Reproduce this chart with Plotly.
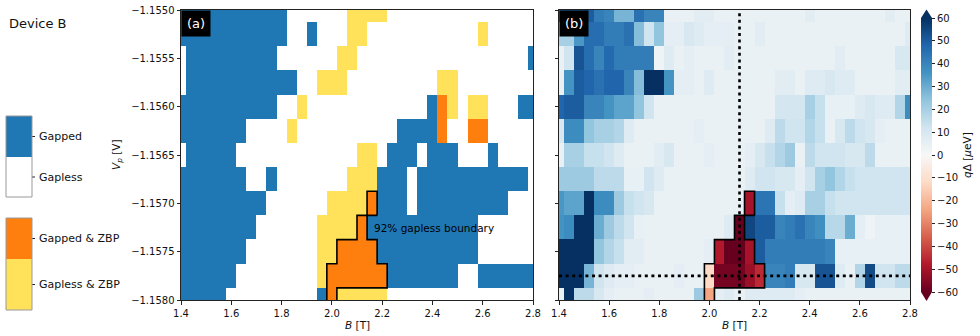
import plotly.graph_objects as go

# Grade de medição (centros das células)
B_vals = [1.40, 1.44, 1.48, 1.52, 1.56, 1.60, 1.64, 1.68, 1.72, 1.76, 1.80, 1.84,
          1.88, 1.92, 1.96, 2.00, 2.04, 2.08, 2.12, 2.16, 2.20, 2.24, 2.28, 2.32,
          2.36, 2.40, 2.44, 2.48, 2.52, 2.56, 2.60, 2.64, 2.68, 2.72, 2.76, 2.80]
Vp_vals = [-1.15500, -1.15525, -1.15550, -1.15575, -1.15600, -1.15625, -1.15650,
           -1.15675, -1.15700, -1.15725, -1.15750, -1.15775, -1.15800]

# Mapa de fases (a): G = gapped, W = gapless, O = gapped & ZBP, Y = gapless & ZBP
phase_rows = [
    "GGGGGGGGGGGWWWWWWYYYYWWWWWWWWWWWWWWW",
    "GGGGGGGGGGGWWGWWWYYWWWWWWWWWWWYWWWWW",
    "WGGGGGGGGGWWWWWWYYWWWWWWWWWWWWWWWWWG",
    "WGGGGGGGGGGGWWYYYWWWWWWWWWYYWWWWWWWW",
    "GGGGGGGGGGWWYWWWWWWWWWWWWGOYWYYWWWGG",
    "GGGGGGGWWWWYWWWWWWWWWWGGGGOWWOOWWWWW",
    "WGGGGGWWWWWWWWWWWWYYWGGGWGGGWWWGWWWW",
    "GGGGGGGWWGWWWWWWWYYYGGGWGGGGGGGGGGGW",
    "GGGGGGGGGWWWWWWYYYYOGGGWGGGGGGGGGWWW",
    "GGGGGGGGWWWWWWYYYYOGGGGGGGGGGGWWWWWW",
    "GGGGGGGWWWWWWWYYOOOOGGGGGGGGGGWWWWWW",
    "GGGGGGWWWWWWWWYOOOOOOGGGGGGGWWGGGGGG",
    "GGGGGWWWWWWWWWGOYYYYYWWWWWWWWWWWWWWW",
]
phase_codes = {"G": 0, "W": 1, "O": 2, "Y": 3}
phase_names = ["Gapped", "Gapless", "Gapped & ZBP", "Gapless & ZBP"]

# qΔ em μeV (b)
q_delta = [
    [45, 48, 48, 50, 42, 40, 28, 28, 45, 40, 40, 4, 4, 4, 7, 7, 4, 4, 4, 4, 4, 4, 4, 4, 4, 7, 4, 4, 4, 4, 4, 4, 4, 7, 4, 4],
    [20, 20, 35, 46, 46, 42, 42, 45, 26, 12, 24, 6, 6, 10, 8, 6, 6, 6, 4, 4, 7, 4, 4, 4, 4, 4, 4, 4, 4, 4, 4, 4, 4, 4, 4, 8],
    [4, 12, 52, 46, 40, 47, 42, 42, 42, 42, 3, 8, 4, 6, 4, 4, 4, 7, 4, 4, 4, 4, 4, 4, 4, 4, 4, 4, 7, 4, 4, 4, 4, 4, 10, 10],
    [4, 36, 50, 48, 45, 48, 48, 40, 26, 60, 60, 36, 6, 6, 4, 8, 4, 4, 4, 4, 4, 4, 7, 7, 4, 8, 8, 10, 8, 8, 4, 4, 4, 4, 7, 7],
    [48, 50, 50, 40, 40, 36, 32, 32, 24, 12, 4, 4, 4, 4, 4, 4, 4, 4, 4, 4, 4, 4, 11, 11, 11, 20, 14, 5, 5, 5, 8, 10, 8, 8, 18, 38],
    [10, 38, 38, 24, 20, 20, 18, 8, 4, 4, 4, 4, 4, 4, 6, 4, 4, 4, 4, 4, 4, 8, 16, 12, 12, 18, 14, 4, 10, 16, 12, 10, 6, 4, 4, 4],
    [4, 20, 20, 14, 14, 12, 8, 4, 4, 4, 7, 10, 4, 4, 4, 6, 4, 4, 4, 6, 10, 14, 18, 22, 4, 16, 12, 12, 12, 10, 10, 16, 4, 4, 4, 4],
    [22, 22, 22, 22, 16, 16, 16, 5, 5, 12, 8, 4, 4, 4, 4, 4, 4, 4, 4, 8, 12, 12, 10, 10, 6, 12, 20, 24, 18, 14, 12, 12, 12, 12, 12, 12],
    [35, 32, 32, 60, 38, 38, 22, 14, 12, 10, 4, 4, 4, 4, 4, 4, 4, 4, 4, -50, 44, 44, 14, 6, 8, 20, 20, 14, 12, 12, 12, 12, 12, 12, 12, 12],
    [36, 38, 60, 60, 30, 22, 16, 12, 5, 4, 4, 4, 4, 4, 4, 4, 4, 8, -60, 55, 50, 50, 40, 42, 45, 40, 37, 17, 17, 30, 6, 3, 5, 5, 5, 5],
    [60, 60, 60, 60, 24, 18, 14, 7, 7, 4, 4, 4, 4, 4, 4, 6, -48, -60, -60, -50, 50, 42, 42, 42, 42, 42, 42, 40, 5, 5, 5, 5, 5, 5, 5, 5],
    [60, 60, 60, 28, 12, 8, 6, 6, 4, 4, 4, 4, 6, 4, 4, -12, -58, -58, -58, -52, -45, 40, 40, 42, 10, 10, 52, 52, 8, 4, 18, 54, 12, 12, 16, 16],
    [4, 60, 16, 16, 10, 6, 4, 4, 4, 6, 4, 4, 4, 4, 22, -24, 6, 8, 4, 8, 8, 8, 8, 8, 6, 4, 4, 4, 4, 4, 4, 4, 4, 4, 4, 4],
]

# Células dentro da fronteira "92% gapless"
boundary_cells = {
    -1.15700: [2.16],
    -1.15725: [2.12],
    -1.15750: [2.04, 2.08, 2.12, 2.16],
    -1.15775: [2.00, 2.04, 2.08, 2.12, 2.16, 2.20],
    -1.15800: [2.00],
}

# Cortes (linhas pontilhadas)
B_cut = 2.12
Vp_cut = -1.15775

x_ticks = [1.4, 1.6, 1.8, 2.0, 2.2, 2.4, 2.6, 2.8]
y_ticks = [-1.1550, -1.1555, -1.1560, -1.1565, -1.1570, -1.1575, -1.1580]
cbar_ticks = [60, 50, 40, 30, 20, 10, 0, -10, -20, -30, -40, -50, -60]

BLUE, WHITE, ORANGE, YELLOW = "#1f77b4", "#ffffff", "#ff7f0e", "#ffe15a"
RDBU = ["#67001f", "#b2182b", "#d6604d", "#f4a582", "#fddbc7", "#f7f7f7",
        "#d1e5f0", "#92c5de", "#4393c3", "#2166ac", "#053061"]
FONT = "DejaVu Sans"
W, H = 980, 336


def px(x):
    return x / W


def py(y):
    return 1 - y / H


def boundary_path(cells, dB=0.04, dV=0.00025):
    # contorno da região a partir das células (pode ter vários laços)
    cellset = set()
    for v, bs in cells.items():
        for b in bs:
            cellset.add((round(b / dB), round(v / dV)))
    edges = []
    for (i, j) in cellset:
        if (i + 1, j) not in cellset:
            edges.append(((i + 0.5, j - 0.5), (i + 0.5, j + 0.5)))
        if (i - 1, j) not in cellset:
            edges.append(((i - 0.5, j - 0.5), (i - 0.5, j + 0.5)))
        if (i, j + 1) not in cellset:
            edges.append(((i - 0.5, j + 0.5), (i + 0.5, j + 0.5)))
        if (i, j - 1) not in cellset:
            edges.append(((i - 0.5, j - 0.5), (i + 0.5, j - 0.5)))
    xs, ys = [], []
    while edges:
        path = list(edges.pop(0))
        while True:
            end = path[-1]
            for k, (a, b) in enumerate(edges):
                if a == end or b == end:
                    path.append(b if a == end else a)
                    edges.pop(k)
                    break
            else:
                break
        xs += [p[0] * dB for p in path] + [None]
        ys += [p[1] * dV for p in path] + [None]
    return xs, ys


phase_z = [[phase_codes[c] for c in row] for row in phase_rows]
phase_text = [[phase_names[phase_codes[c]] for c in row] for row in phase_rows]

disc_scale = [[0, BLUE], [0.25, BLUE], [0.25, WHITE], [0.5, WHITE],
              [0.5, ORANGE], [0.75, ORANGE], [0.75, YELLOW], [1, YELLOW]]
rdbu_scale = [[i / 10, c] for i, c in enumerate(RDBU)]

fig = go.Figure()

fig.add_trace(go.Heatmap(
    x=B_vals, y=Vp_vals, z=phase_z, text=phase_text,
    colorscale=disc_scale, zmin=-0.5, zmax=3.5, showscale=False,
    hovertemplate="B=%{x} T<br>Vp=%{y} V<br>%{text}<extra></extra>",
    xaxis="x", yaxis="y"))

fig.add_trace(go.Heatmap(
    x=B_vals, y=Vp_vals, z=q_delta,
    colorscale=rdbu_scale, zmin=-60, zmax=60,
    hovertemplate="B=%{x} T<br>Vp=%{y} V<br>qΔ=%{z} μeV<extra></extra>",
    colorbar=dict(x=px(921), xanchor="left", y=py(155), yanchor="middle",
                  len=274 / H, lenmode="fraction", thickness=11,
                  xpad=0, ypad=0,
                  tickvals=cbar_ticks, ticks="outside", ticklen=3.5,
                  tickcolor="#222", tickfont=dict(size=10, color="#111"),
                  outlinewidth=0),
    xaxis="x2", yaxis="y2"))

bx, by = boundary_path(boundary_cells)
for xa, ya in [("x", "y"), ("x2", "y2")]:
    fig.add_trace(go.Scatter(x=bx, y=by, mode="lines",
                             line=dict(color="black", width=1.6),
                             hoverinfo="skip", showlegend=False,
                             xaxis=xa, yaxis=ya))

axis_common = dict(ticks="outside", ticklen=3.5, tickwidth=1, tickcolor="#222",
                   showline=True, linecolor="#222", linewidth=1, mirror=True,
                   showgrid=False, zeroline=False, automargin=False,
                   tickfont=dict(size=10, color="#111"))

fig.update_layout(
    width=W, height=H,
    margin=dict(l=0, r=0, t=0, b=0, pad=0),
    paper_bgcolor="white", plot_bgcolor="white",
    font=dict(family=FONT, color="#111"),
    showlegend=False,
    xaxis=dict(domain=[px(181), px(533)], range=[1.4, 2.8], tickvals=x_ticks,
               tickformat=".1f", anchor="y", **axis_common),
    yaxis=dict(domain=[py(300), py(10)], range=[-1.158, -1.155], tickvals=y_ticks,
               tickformat=".4f", anchor="x", **axis_common),
    xaxis2=dict(domain=[px(559), px(910)], range=[1.4, 2.8], tickvals=x_ticks,
                tickformat=".1f", anchor="y2", **axis_common),
    yaxis2=dict(domain=[py(300), py(10)], range=[-1.158, -1.155], tickvals=y_ticks,
                showticklabels=False, anchor="x2", **axis_common),
)

# linhas de corte pontilhadas
fig.add_shape(type="line", xref="x2", yref="y2 domain", x0=B_cut, x1=B_cut, y0=0, y1=1,
              line=dict(color="black", width=2.6, dash="3px,3.6px"))
fig.add_shape(type="line", xref="x2 domain", yref="y2", x0=0, x1=1, y0=Vp_cut, y1=Vp_cut,
              line=dict(color="black", width=2.6, dash="3px,3.6px"))

# triângulos de extensão da barra de cores
cx0, cx1 = px(921), px(932)
fig.add_shape(type="path", xref="paper", yref="paper",
              path=f"M {cx0},{py(18)} L {cx1},{py(18)} L {(cx0 + cx1) / 2},{py(9.5)} Z",
              fillcolor=RDBU[-1], line=dict(width=0))
fig.add_shape(type="path", xref="paper", yref="paper",
              path=f"M {cx0},{py(292)} L {cx1},{py(292)} L {(cx0 + cx1) / 2},{py(301)} Z",
              fillcolor=RDBU[0], line=dict(width=0))

# legendas discretas à esquerda
legend_blocks = [
    (116, 157, BLUE, phase_names[0]),
    (157, 197, WHITE, phase_names[1]),
    (218, 259, ORANGE, phase_names[2]),
    (259, 310, YELLOW, phase_names[3]),
]
for y0, y1, col, name in legend_blocks:
    fig.add_shape(type="rect", xref="paper", yref="paper",
                  x0=px(6), x1=px(32), y0=py(y1), y1=py(y0),
                  fillcolor=col, line=dict(width=0))
    ym = (y0 + y1) / 2
    fig.add_shape(type="line", xref="paper", yref="paper",
                  x0=px(32), x1=px(35), y0=py(ym), y1=py(ym),
                  line=dict(color="#222", width=1))
    fig.add_annotation(x=px(37), y=py(ym), xref="paper", yref="paper",
                       text=name, showarrow=False, xanchor="left", yanchor="middle",
                       font=dict(size=11))
for y0, y1 in [(116, 197), (218, 310)]:
    fig.add_shape(type="rect", xref="paper", yref="paper",
                  x0=px(6), x1=px(32), y0=py(y1), y1=py(y0),
                  line=dict(color="#999", width=1))

annots = [
    dict(x=px(7), y=py(24), text="Device B", font=dict(size=13),
         xanchor="left", yanchor="middle"),
    dict(x=px(117), y=py(155), text="<i>V</i><sub><i>p</i></sub> [V]",
         font=dict(size=10.5), textangle=-90, xanchor="center", yanchor="middle"),
    dict(x=px(357), y=py(325), text="<i>B</i> [T]", font=dict(size=10.5),
         xanchor="center", yanchor="middle"),
    dict(x=px(734), y=py(325), text="<i>B</i> [T]", font=dict(size=10.5),
         xanchor="center", yanchor="middle"),
    dict(x=px(967), y=py(155), text="<i>q</i>Δ [<i>μ</i>eV]", font=dict(size=10.5),
         textangle=-90, xanchor="center", yanchor="middle"),
]
for a in annots:
    fig.add_annotation(xref="paper", yref="paper", showarrow=False, **a)

fig.add_annotation(x=2.16, y=-1.15725, xref="x", yref="y", text="92% gapless boundary",
                   showarrow=False, xanchor="left", yanchor="middle",
                   font=dict(size=10.5, color="black"))

for ref, lab in [("x", "(a)"), ("x2", "(b)")]:
    fig.add_annotation(x=0, y=1, xref=f"{ref} domain", yref=f"{'y' if ref == 'x' else 'y2'} domain",
                       text=lab, showarrow=False, xanchor="left", yanchor="top",
                       bgcolor="black", borderpad=5, font=dict(size=13, color="white"))

# remove a margem padrão do <body> para a figura ficar alinhada ao canto
fig.write_html("out.html", config={"displayModeBar": False},
               post_script="document.body.style.margin='0';")
